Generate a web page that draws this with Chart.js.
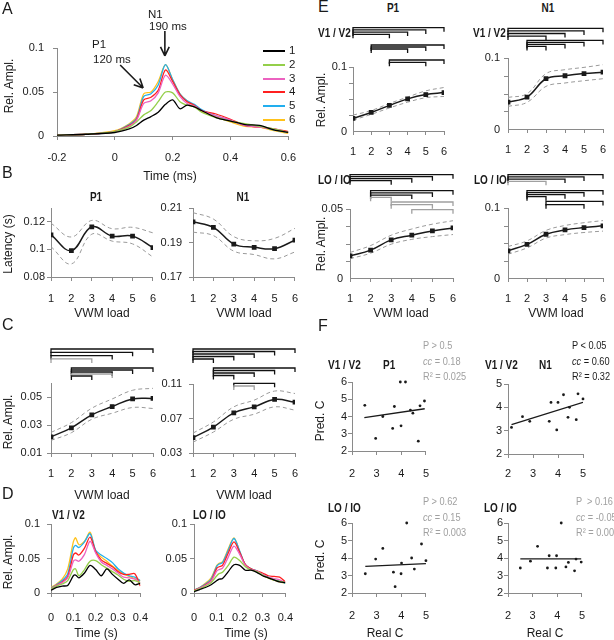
<!DOCTYPE html>
<html>
<head>
<meta charset="utf-8">
<script src="https://cdn.jsdelivr.net/npm/chart.js@4.4.1/dist/chart.umd.min.js"></script>
<style>
  body { margin: 0; background: #fff; }
  #fig { position: relative; width: 614px; height: 640px; overflow: hidden;
         font-family: "Liberation Sans", Arial, sans-serif; color: #1a1a1a; }
  #fig canvas { position: absolute; }
  .t { position: absolute; white-space: nowrap; line-height: 1; }
  .zero { z-index: 5; color: #1a1a1a; }
</style>
</head>
<body>
<div id="fig"></div>
<script>
// ── Shared categories ──
const LOADS = [1, 2, 3, 4, 5, 6];
const SERIES_LABELS = ['1', '2', '3', '4', '5', '6'];
const COLORS = ['#000000', '#94cf4a', '#ec62c0', '#ff2020', '#22aeee', '#ffc21a'];

// ── A: grand average response per load (time in s) ──
const T_A = [-0.2, -0.1, 0, 0.05, 0.075, 0.1, 0.125, 0.15, 0.175, 0.2, 0.225, 0.25, 0.275, 0.3, 0.35, 0.4, 0.45, 0.5, 0.55, 0.6];
const A_1 = [0.001, 0.002, 0.004, 0.008, 0.012, 0.018, 0.022, 0.027, 0.036, 0.041, 0.031, 0.035, 0.033, 0.029, 0.021, 0.017, 0.013, 0.012, 0.007, 0.004];
const A_2 = [0.001, 0.002, 0.005, 0.010, 0.016, 0.024, 0.029, 0.039, 0.050, 0.049, 0.039, 0.035, 0.033, 0.027, 0.021, 0.017, 0.014, 0.011, 0.008, 0.004];
const A_3 = [0.001, 0.002, 0.005, 0.011, 0.018, 0.037, 0.040, 0.049, 0.069, 0.059, 0.045, 0.037, 0.034, 0.029, 0.023, 0.018, 0.012, 0.010, 0.008, 0.004];
const A_4 = [0.001, 0.002, 0.005, 0.012, 0.019, 0.041, 0.044, 0.052, 0.075, 0.062, 0.047, 0.039, 0.035, 0.029, 0.025, 0.019, 0.012, 0.010, 0.008, 0.005];
const A_5 = [0.001, 0.002, 0.005, 0.013, 0.020, 0.045, 0.048, 0.058, 0.081, 0.064, 0.048, 0.040, 0.036, 0.030, 0.023, 0.018, 0.012, 0.011, 0.007, 0.004];
const A_6 = [0.001, 0.002, 0.006, 0.014, 0.022, 0.048, 0.050, 0.062, 0.081, 0.064, 0.048, 0.040, 0.034, 0.028, 0.022, 0.016, 0.011, 0.010, 0.006, 0.003];
const A_XTICKS = [-0.2, 0, 0.2, 0.4, 0.6];
const A_YTICKS = [0, 0.05, 0.1];

// ── B: latency vs load ──
const B_P1 = [0.1105, 0.0991, 0.1164, 0.1096, 0.1096, 0.1013];
const B_P1_HI = [0.119, 0.109, 0.121, 0.115, 0.116, 0.112];
const B_P1_LOW = [0.102, 0.0895, 0.111, 0.106, 0.104, 0.0945];
const B_N1 = [0.202, 0.1988, 0.1891, 0.1872, 0.1864, 0.1914];
const B_N1_HI = [0.2073, 0.2036, 0.1934, 0.191, 0.1924, 0.1982];
const B_N1_LOW = [0.196, 0.194, 0.185, 0.183, 0.1805, 0.1845];

// ── C: amplitude vs load ──
const C_P1 = [0.0216, 0.028, 0.0372, 0.0432, 0.0486, 0.049];
const C_P1_HI = [0.0247, 0.0317, 0.042, 0.0486, 0.0548, 0.0562];
const C_P1_LOW = [0.019, 0.0245, 0.0341, 0.0384, 0.0425, 0.0418];
const C_N1 = [0.0478, 0.0601, 0.0765, 0.0835, 0.0921, 0.089];
const C_N1_HI = [0.0531, 0.066, 0.0835, 0.0913, 0.1018, 0.099];
const C_N1_LOW = [0.0426, 0.0543, 0.0691, 0.075, 0.0835, 0.0797];
// significance brackets: [from, to, grey?]
const C_P1_BRACKETS = [[[1, 6], [1, 5], [1, 4], [1, 3, 1]], [[2, 6], [2, 5], [2, 4], [2, 4, 1], [2, 3]]];
const C_N1_BRACKETS = [[[1, 6], [1, 5], [1, 4], [1, 3], [1, 2]], [[2, 6], [2, 5], [2, 4], [2, 3]], [[3, 5], [3, 4, 1]]];

// ── D: responses per area ──
const T_D = [0, 0.025, 0.05, 0.075, 0.1, 0.11, 0.125, 0.15, 0.175, 0.2, 0.225, 0.25, 0.275, 0.3, 0.325, 0.35, 0.375, 0.4];
const D_V1_1 = [0.004, 0.008, 0.010, 0.011, 0.025, 0.026, 0.022, 0.029, 0.040, 0.034, 0.025, 0.035, 0.027, 0.020, 0.014, 0.019, 0.012, 0.014];
const D_V1_2 = [0.006, 0.010, 0.013, 0.018, 0.034, 0.035, 0.025, 0.034, 0.046, 0.047, 0.041, 0.036, 0.031, 0.026, 0.020, 0.017, 0.018, 0.015];
const D_V1_3 = [0.006, 0.011, 0.015, 0.022, 0.046, 0.048, 0.046, 0.056, 0.075, 0.058, 0.045, 0.040, 0.035, 0.029, 0.023, 0.022, 0.020, 0.015];
const D_V1_4 = [0.006, 0.011, 0.016, 0.024, 0.055, 0.058, 0.055, 0.065, 0.081, 0.060, 0.048, 0.043, 0.038, 0.031, 0.027, 0.027, 0.028, 0.010];
const D_V1_5 = [0.007, 0.012, 0.018, 0.028, 0.065, 0.069, 0.066, 0.074, 0.086, 0.062, 0.055, 0.050, 0.044, 0.035, 0.029, 0.025, 0.023, 0.018];
const D_V1_6 = [0.008, 0.013, 0.020, 0.035, 0.074, 0.080, 0.070, 0.075, 0.088, 0.060, 0.052, 0.046, 0.039, 0.033, 0.028, 0.024, 0.021, 0.018];
const D_LO_1 = [0.002, 0.005, 0.008, 0.012, 0.018, 0.020, 0.021, 0.031, 0.041, 0.040, 0.033, 0.033, 0.030, 0.025, 0.022, 0.019, 0.016, 0.015];
const D_LO_2 = [0.003, 0.006, 0.010, 0.015, 0.025, 0.028, 0.030, 0.040, 0.052, 0.047, 0.038, 0.033, 0.031, 0.026, 0.022, 0.019, 0.017, 0.015];
const D_LO_3 = [0.003, 0.007, 0.011, 0.017, 0.032, 0.034, 0.036, 0.052, 0.068, 0.056, 0.040, 0.034, 0.032, 0.027, 0.023, 0.021, 0.019, 0.015];
const D_LO_4 = [0.004, 0.007, 0.012, 0.018, 0.036, 0.038, 0.040, 0.058, 0.074, 0.059, 0.041, 0.035, 0.032, 0.029, 0.025, 0.024, 0.023, 0.016];
const D_LO_5 = [0.004, 0.008, 0.013, 0.020, 0.039, 0.042, 0.044, 0.062, 0.079, 0.061, 0.041, 0.035, 0.032, 0.027, 0.023, 0.019, 0.017, 0.014];
const D_LO_6 = [0.004, 0.008, 0.014, 0.022, 0.040, 0.043, 0.045, 0.064, 0.080, 0.060, 0.040, 0.035, 0.031, 0.026, 0.022, 0.0185, 0.016, 0.014];
const D_XTICKS = [0, 0.1, 0.2, 0.3, 0.4];

// ── E: amplitude vs load per area ──
const E_P1_V1 = [0.0197, 0.029, 0.040, 0.0502, 0.057, 0.060];
const E_P1_V1_HI = [0.0249, 0.032, 0.043, 0.053, 0.0627, 0.068];
const E_P1_V1_LOW = [0.017, 0.026, 0.036, 0.045, 0.052, 0.054];
const E_N1_V1 = [0.038, 0.045, 0.0708, 0.075, 0.078, 0.080];
const E_N1_V1_HI = [0.0445, 0.0497, 0.078, 0.0835, 0.0868, 0.0906];
const E_N1_V1_LOW = [0.0319, 0.0375, 0.060, 0.0648, 0.068, 0.0708];
const E_P1_LOIO = [0.0161, 0.0202, 0.0276, 0.031, 0.0341, 0.0363];
const E_P1_LOIO_HI = [0.0185, 0.0235, 0.031, 0.0355, 0.039, 0.0415];
const E_P1_LOIO_LOW = [0.014, 0.018, 0.0245, 0.028, 0.030, 0.0315];
const E_N1_LOIO = [0.0389, 0.048, 0.0625, 0.0687, 0.072, 0.0745];
const E_N1_LOIO_HI = [0.045, 0.053, 0.068, 0.075, 0.079, 0.082];
const E_N1_LOIO_LOW = [0.034, 0.043, 0.057, 0.062, 0.065, 0.067];
const E_YTICKS_10 = [0.1], E_YMINOR_10 = [0.025, 0.05, 0.075];
const E_YTICKS_05 = [0.05], E_YMINOR_05 = [0.0125, 0.025, 0.0375];
const E_P1_V1_BRACKETS = [[[1, 6], [1, 5], [1, 4], [1, 3]], [[2, 6], [2, 5], [2, 4]], [[3, 6], [3, 5]]];
const E_N1_V1_BRACKETS = [[[1, 6], [1, 5], [1, 4], [1, 3]], [[2, 6], [2, 5], [2, 4], [2, 3]]];
const E_P1_LOIO_BRACKETS = [[[1, 6], [1, 5], [1, 4], [1, 3]], [[2, 6], [2, 5], [2, 4], [2, 3, 1]], [[3, 6, 1], [3, 5, 1]], [[4, 6, 1]]];
const E_N1_LOIO_BRACKETS = [[[1, 6], [1, 5], [1, 4], [1, 3, 1]], [[2, 6], [2, 5], [2, 4], [2, 3]], [[3, 6], [3, 5]]];

// ── F: predicted vs real capacity ──
const F_P1_V1_REAL = [2.52, 2.96, 3.25, 3.65, 3.72, 3.96, 3.99, 4.17, 4.37, 4.47, 4.69, 4.76, 4.94];
const F_P1_V1_PRED = [4.65, 2.73, 4.0, 3.31, 4.58, 6.0, 3.46, 6.0, 4.37, 4.19, 2.57, 4.62, 4.9];
const F_P1_V1_FIT_X = [2.5, 4.95], F_P1_V1_FIT_Y = [3.93, 4.45];
const F_N1_V1_REAL = [2.14, 2.58, 2.87, 3.65, 3.72, 3.95, 4.0, 4.22, 4.4, 4.46, 4.73, 4.8, 5.0];
const F_N1_V1_PRED = [3.14, 3.6, 3.4, 3.4, 4.21, 3.03, 4.21, 4.54, 3.57, 4.0, 3.47, 4.58, 4.36];
const F_N1_V1_FIT_X = [2.14, 5.0], F_N1_V1_FIT_Y = [3.26, 4.21];
const F_P1_LOIO_REAL = [2.54, 2.96, 3.25, 3.68, 3.75, 3.99, 4.01, 4.22, 4.42, 4.53, 4.82, 5.0];
const F_P1_LOIO_PRED = [3.1, 3.94, 4.55, 3.19, 2.36, 3.1, 3.71, 6.0, 4.0, 3.37, 4.8, 3.85];
const F_P1_LOIO_FIT_X = [2.54, 5.0], F_P1_LOIO_FIT_Y = [3.52, 3.68];
const F_N1_LOIO_REAL = [2.5, 2.91, 3.2, 3.6, 3.67, 3.94, 3.97, 4.16, 4.35, 4.45, 4.7, 4.76, 4.97];
const F_N1_LOIO_PRED = [3.43, 3.82, 4.67, 3.43, 4.13, 3.43, 4.13, 6.0, 3.49, 3.75, 3.27, 3.94, 3.77];
const F_N1_LOIO_FIT_X = [2.5, 4.97], F_N1_LOIO_FIT_Y = [3.95, 3.95];

// ── Style ──
const FONT = '"Liberation Sans", Arial, sans-serif';
const NARROW_SCALE = 0.8;
const INK = '#1a1a1a', AXIS = '#8a8a8a', DASH = '#9a9a9a', GREY = '#a0a0a0';
Chart.defaults.font.family = FONT;
Chart.defaults.color = INK;

const fig = document.getElementById('fig');

const bracketPlugin = {
  id: 'brackets',
  afterDraw(chart, args, opts) {
    if (!opts.groups) return;
    const { ctx, chartArea, scales: { x } } = chart;
    ctx.save();
    ctx.lineWidth = 1.3;
    opts.groups.forEach((g, gi) => {
      const base = chartArea.top - opts.offsets[gi];
      g.forEach(([a, b, grey], i) => {
        const y = base + i * opts.gaps[gi];
        const xa = x.getPixelForValue(a), xb = x.getPixelForValue(b);
        ctx.strokeStyle = grey ? GREY : '#111';
        ctx.beginPath();
        ctx.moveTo(xa, y + 4); ctx.lineTo(xa, y); ctx.lineTo(xb, y); ctx.lineTo(xb, y + 4);
        ctx.stroke();
      });
    });
    ctx.restore();
  }
};

// unlabelled tick marks on the y axis
const minorPlugin = {
  id: 'minorTicks',
  afterDraw(chart, args, opts) {
    if (!opts.values) return;
    const { ctx, scales: { y } } = chart;
    ctx.save();
    ctx.strokeStyle = AXIS;
    ctx.lineWidth = 1;
    opts.values.forEach(v => {
      const py = Math.round(y.getPixelForValue(v)) + 0.5;
      ctx.beginPath(); ctx.moveTo(y.right - 4, py); ctx.lineTo(y.right, py); ctx.stroke();
    });
    ctx.restore();
  }
};

const arrowPlugin = {
  id: 'arrows',
  afterDraw(chart, args, opts) {
    if (!opts.list) return;
    const { ctx, scales: { x, y } } = chart;
    ctx.save();
    ctx.strokeStyle = INK;
    ctx.lineWidth = 1.6;
    opts.list.forEach(a => {
      const tx = x.getPixelForValue(a.t), ty = y.getPixelForValue(a.v);
      const fx = tx + a.dx, fy = ty + a.dy;
      const ang = Math.atan2(ty - fy, tx - fx);
      ctx.beginPath();
      ctx.moveTo(fx, fy); ctx.lineTo(tx, ty);
      [-0.45, 0.45].forEach(d => {
        ctx.moveTo(tx, ty);
        ctx.lineTo(tx - 10 * Math.cos(ang + d), ty - 10 * Math.sin(ang + d));
      });
      ctx.stroke();
    });
    ctx.restore();
  }
};
Chart.register(bracketPlugin, minorPlugin, arrowPlugin);

function linAxis(o) {
  return {
    type: 'linear', min: o.min, max: o.max,
    afterBuildTicks: s => { s.ticks = o.ticks.map(v => ({ value: v })); },
    afterFit: s => { if (o.horiz) s.height = o.size; else s.width = o.size; },
    ticks: {
      padding: o.pad, font: { size: 11 }, color: INK, autoSkip: false, maxRotation: 0,
      callback: (v, i) => String(o.ticks[i])
    },
    grid: { drawOnChartArea: false, drawTicks: true, tickLength: 4, tickColor: AXIS },
    border: { color: AXIS }
  };
}

function mkChart(rect, m, cfg) {
  const [x0, y0, x1, y1] = rect;
  const cv = document.createElement('canvas');
  cv.width = x1 - x0 + m.l + m.r;
  cv.height = y1 - y0 + m.t + m.b;
  cv.style.left = (x0 - m.l) + 'px';
  cv.style.top = (y0 - m.t) + 'px';
  fig.appendChild(cv);
  cfg.x.size = m.b; cfg.x.horiz = true; cfg.y.size = m.l;
  return new Chart(cv, {
    type: 'line',
    data: { datasets: cfg.datasets },
    options: {
      responsive: false, animation: false, devicePixelRatio: 1,
      layout: { padding: { top: m.t, right: m.r, left: 0, bottom: 0 } },
      plugins: {
        legend: { display: false }, tooltip: { enabled: false },
        brackets: cfg.brackets || {}, arrows: cfg.arrows || {},
        minorTicks: { values: cfg.minor }
      },
      scales: { x: linAxis(cfg.x), y: linAxis(cfg.y) }
    }
  });
}

function series(xs, ys, color, width, extra) {
  return Object.assign({
    data: xs.map((x, i) => ({ x, y: ys[i] })),
    borderColor: color, backgroundColor: color, borderWidth: width,
    pointRadius: 0, tension: 0.4, fill: false
  }, extra);
}

function loadSet(mean, hi, lo) {
  return [
    series(LOADS, mean, INK, 1.5, { pointRadius: 2.3, pointStyle: 'rect' }),
    series(LOADS, hi, DASH, 1, { borderDash: [4, 3] }),
    series(LOADS, lo, DASH, 1, { borderDash: [4, 3] })
  ];
}

function waveSet(xs, list) {
  return list.map((ys, i) => series(xs, ys, COLORS[i], 1.3, { tension: 0.3 }));
}

function scatterSet(xs, ys, fx, fy) {
  return [
    series(xs, ys, INK, 0, { showLine: false, pointRadius: 1.4, clip: false }),
    series(fx, fy, INK, 1.3, { tension: 0 })
  ];
}

const loadX = pad => ({ min: 1, max: 6, ticks: LOADS, pad });

// ── A ──
mkChart([57, 48, 293, 136], { l: 45, t: 48, r: 14, b: 36 }, {
  datasets: waveSet(T_A, [A_1, A_2, A_3, A_4, A_5, A_6]),
  x: { min: -0.2, max: 0.6, ticks: A_XTICKS, pad: 11 },
  y: { min: 0, max: 0.1, ticks: A_YTICKS, pad: 9 },
  arrows: { list: [{ t: 0.173, v: 0.091, dx: 0, dy: -25 }, { t: 0.098, v: 0.0545, dx: -23, dy: -23 }] }
});

// ── B ──
mkChart([51, 208, 153, 277], { l: 40, t: 18, r: 14, b: 36 }, {
  datasets: loadSet(B_P1, B_P1_HI, B_P1_LOW), x: loadX(11),
  y: { min: 0.08, max: 0.13, ticks: [0.08, 0.1, 0.12], pad: 2 }
});
mkChart([193, 208, 295, 277], { l: 40, t: 18, r: 14, b: 36 }, {
  datasets: loadSet(B_N1, B_N1_HI, B_N1_LOW), x: loadX(11),
  y: { min: 0.17, max: 0.21, ticks: [0.17, 0.19, 0.21], pad: 7 }
});

// ── C ──
mkChart([51, 383, 153, 453], { l: 40, t: 40, r: 14, b: 36 }, {
  datasets: loadSet(C_P1, C_P1_HI, C_P1_LOW), x: loadX(10),
  y: { min: 0.01, max: 0.06, ticks: [0.01, 0.03, 0.05], pad: 5 },
  brackets: { groups: C_P1_BRACKETS, offsets: [34, 15], gaps: [3.3, 2] }
});
mkChart([193, 384, 295, 453], { l: 40, t: 40, r: 14, b: 36 }, {
  datasets: loadSet(C_N1, C_N1_HI, C_N1_LOW), x: loadX(10),
  y: { min: 0.03, max: 0.11, ticks: [0.03, 0.07, 0.11], pad: 7 },
  brackets: { groups: C_N1_BRACKETS, offsets: [35, 16, 0.7], gaps: [2.5, 2.5, 2.7] }
});

// ── D ──
mkChart([51, 524, 148, 593], { l: 40, t: 18, r: 14, b: 36 }, {
  datasets: waveSet(T_D, [D_V1_1, D_V1_2, D_V1_3, D_V1_4, D_V1_5, D_V1_6]),
  x: { min: 0, max: 0.4, ticks: D_XTICKS, pad: 14 },
  y: { min: 0, max: 0.1, ticks: A_YTICKS, pad: 7 }
});
mkChart([194, 524, 293, 593], { l: 40, t: 18, r: 14, b: 36 }, {
  datasets: waveSet(T_D, [D_LO_1, D_LO_2, D_LO_3, D_LO_4, D_LO_5, D_LO_6]),
  x: { min: 0, max: 0.4, ticks: D_XTICKS, pad: 14 },
  y: { min: 0, max: 0.1, ticks: A_YTICKS, pad: 3 }
});

// ── E ──
mkChart([353, 67, 444, 131], { l: 40, t: 42, r: 14, b: 36 }, {
  datasets: loadSet(E_P1_V1, E_P1_V1_HI, E_P1_V1_LOW), x: loadX(10),
  y: { min: 0, max: 0.1, ticks: E_YTICKS_10, pad: 2 }, minor: E_YMINOR_10,
  brackets: { groups: E_P1_V1_BRACKETS, offsets: [39.3, 22, 7], gaps: [2.2, 2, 2.3] }
});
mkChart([508, 58, 603, 129], { l: 40, t: 34, r: 14, b: 36 }, {
  datasets: loadSet(E_N1_V1, E_N1_V1_HI, E_N1_V1_LOW), x: loadX(10),
  y: { min: 0, max: 0.1, ticks: E_YTICKS_10, pad: 4 }, minor: E_YMINOR_10,
  brackets: { groups: E_N1_V1_BRACKETS, offsets: [29.7, 17.6], gaps: [2.6, 2] }
});
mkChart([350, 209, 453, 278], { l: 40, t: 38, r: 14, b: 36 }, {
  datasets: loadSet(E_P1_LOIO, E_P1_LOIO_HI, E_P1_LOIO_LOW), x: loadX(10),
  y: { min: 0, max: 0.05, ticks: E_YTICKS_05, pad: 3 }, minor: E_YMINOR_05,
  brackets: { groups: E_P1_LOIO_BRACKETS, offsets: [34.3, 18.3, 7, -0.7], gaps: [2, 2.2, 2.7, 0] }
});
mkChart([508, 208, 603, 278], { l: 40, t: 38, r: 14, b: 36 }, {
  datasets: loadSet(E_N1_LOIO, E_N1_LOIO_HI, E_N1_LOIO_LOW), x: loadX(10),
  y: { min: 0, max: 0.1, ticks: E_YTICKS_10, pad: 4 }, minor: E_YMINOR_10,
  brackets: { groups: E_N1_LOIO_BRACKETS, offsets: [33.3, 17.3, 6.6], gaps: [2.2, 2, 3.3] }
});

// ── F ──
const F_X = pad => ({ min: 2, max: 5, ticks: [2, 3, 4, 5], pad });
const F_Y6 = pad => ({ min: 2, max: 6, ticks: [2, 3, 4, 5, 6], pad });
mkChart([352, 382, 427, 451], { l: 30, t: 18, r: 14, b: 36 }, {
  datasets: scatterSet(F_P1_V1_REAL, F_P1_V1_PRED, F_P1_V1_FIT_X, F_P1_V1_FIT_Y),
  x: F_X(12), y: F_Y6(1)
});
mkChart([508, 384, 583, 454], { l: 30, t: 18, r: 14, b: 36 }, {
  datasets: scatterSet(F_N1_V1_REAL, F_N1_V1_PRED, F_N1_V1_FIT_X, F_N1_V1_FIT_Y),
  x: F_X(9), y: { min: 2, max: 5, ticks: [2, 3, 4, 5], pad: 2 }
});
mkChart([352, 523, 427, 593], { l: 30, t: 18, r: 14, b: 36 }, {
  datasets: scatterSet(F_P1_LOIO_REAL, F_P1_LOIO_PRED, F_P1_LOIO_FIT_X, F_P1_LOIO_FIT_Y),
  x: F_X(12), y: F_Y6(1)
});
mkChart([508, 523, 583, 593], { l: 30, t: 18, r: 14, b: 36 }, {
  datasets: scatterSet(F_N1_LOIO_REAL, F_N1_LOIO_PRED, F_N1_LOIO_FIT_X, F_N1_LOIO_FIT_Y),
  x: F_X(12), y: F_Y6(1)
});

// ── Text ──
function label(text, x, y, o = {}) {
  const d = document.createElement('div');
  d.className = 't' + (o.cls ? ' ' + o.cls : '');
  d.innerHTML = text;
  d.style.left = x + 'px';
  d.style.top = y + 'px';
  d.style.fontSize = (o.size || 12) + 'px';
  if (o.bold) d.style.fontWeight = 'bold';
  if (o.color) d.style.color = o.color;
  let ax = o.rot || o.align === 'center' ? 50 : o.align === 'right' ? 100 : 0;
  let tf = '';
  if (o.narrow) {
    ax *= NARROW_SCALE;
    d.style.transformOrigin = '0 50%';
    tf = ` scaleX(${NARROW_SCALE})`;
  }
  d.style.transform = `translate(-${ax}%,-50%)` + (o.rot ? ' rotate(-90deg)' : '') + tf;
  fig.appendChild(d);
}
const head = { bold: true, narrow: true, size: 12.5 };

['A', 'B', 'C', 'D'].forEach((s, i) => label(s, 2, [9, 173, 325, 494][i], { size: 16 }));
label('E', 318, 7, { size: 16 });
label('F', 318, 326, { size: 16 });

// A
label('N1', 148, 15, { size: 11.5 });
label('190 ms', 149, 27, { size: 11.5 });
label('P1', 92, 45, { size: 11.5 });
label('120 ms', 93, 60, { size: 11.5 });
label('Time (ms)', 170, 176, { align: 'center' });
label('Rel. Ampl.', 9, 86, { rot: true });
SERIES_LABELS.forEach((s, i) => {
  const y = 51 + i * 13.8;
  const ln = document.createElement('div');
  ln.style.cssText = `position:absolute;left:263px;top:${y - 1}px;width:22px;height:2px;background:${COLORS[i]}`;
  fig.appendChild(ln);
  label(s, 289, y, { size: 11.5 });
});

// B
label('P1', 96, 197, Object.assign({ align: 'center' }, head));
label('N1', 243, 197, Object.assign({ align: 'center' }, head));
label('Latency (s)', 8, 244, { rot: true });
label('VWM load', 102, 313, { align: 'center' });
label('VWM load', 244, 313, { align: 'center' });

// C
label('Rel. Ampl.', 8, 422, { rot: true });
label('VWM load', 102, 495, { align: 'center' });
label('VWM load', 244, 495, { align: 'center' });

// D
label('V1 / V2', 52, 515, head);
label('LO / IO', 193, 515, head);
label('Rel. Ampl.', 8, 562, { rot: true });
label('Time (s)', 96, 633, { align: 'center' });
label('Time (s)', 246, 633, { align: 'center' });

// E
label('P1', 393, 8, Object.assign({ align: 'center' }, head));
label('N1', 548, 8, Object.assign({ align: 'center' }, head));
label('V1 / V2', 318, 33, head);
label('V1 / V2', 473, 33, head);
label('LO / IO', 318, 180, head);
label('LO / IO', 474, 180, head);
label('Rel. Ampl.', 321, 100, { rot: true });
label('Rel. Ampl.', 321, 244, { rot: true });
label('VWM load', 401, 313, { align: 'center' });
label('VWM load', 556, 313, { align: 'center' });
// zero labels of the E amplitude axes
[[347, 131], [500, 129], [343, 278], [500, 278]].forEach(([x, y]) =>
  label('0', x, y, { size: 11, align: 'right', cls: 'zero' }));

// F
label('V1 / V2', 328, 365, head);
label('P1', 383, 365, head);
label('V1 / V2', 485, 365, head);
label('N1', 539, 365, head);
label('LO / IO', 328, 508, head);
label('LO / IO', 484, 508, head);
label('Pred. C', 320, 421, { rot: true });
label('Pred. C', 320, 560, { rot: true });
label('Real C', 385, 633, { align: 'center' });
label('Real C', 545, 633, { align: 'center' });
const stat = (lines, x, y, color) => lines.forEach((s, i) =>
  label(s, x, y + i * 15.5, { narrow: true, size: 11.5, color }));
stat(['P &gt; 0.5', '<i>cc</i> = 0.18', 'R² = 0.025'], 423, 346, GREY);
stat(['P &lt; 0.05', '<i>cc</i> = 0.60', 'R² = 0.32'], 572, 346, INK);
stat(['P &gt; 0.62', '<i>cc</i> = 0.15', 'R² = 0.003'], 423, 502, GREY);
stat(['P &nbsp;&gt; 0.16', '<i>cc</i> = -0.05', 'R² = 0.00'], 576, 502, GREY);
</script>
</body>
</html>
